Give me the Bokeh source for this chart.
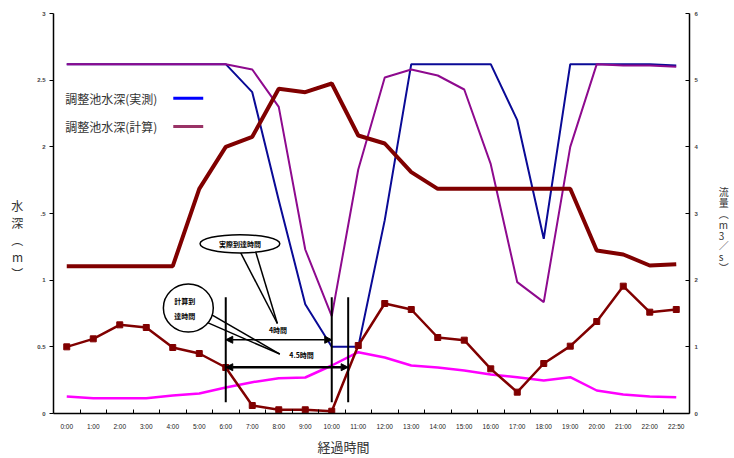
from bokeh.plotting import figure
from bokeh.models import Range1d, LinearAxis, FixedTicker, Arrow, NormalHead, Title
from bokeh.embed import file_html
from bokeh.resources import INLINE
from bokeh.core.properties import value

# ---------------- data ----------------
time_labels = ["0:00", "1:00", "2:00", "3:00", "4:00", "5:00", "6:00", "7:00",
               "8:00", "9:00", "10:00", "11:00", "12:00", "13:00", "14:00",
               "15:00", "16:00", "17:00", "18:00", "19:00", "20:00", "21:00",
               "22:00", "22:50"]

# 調整池水深 (m), left axis
depth_measured = [2.62, 2.62, 2.62, 2.62, 2.62, 2.62, 2.62, 2.41, 1.60, 0.82,
                  0.50, 0.50, 1.45, 2.62, 2.62, 2.62, 2.62, 2.20, 1.31, 2.62,
                  2.62, 2.62, 2.62, 2.61]
depth_calc = [2.62, 2.62, 2.62, 2.62, 2.62, 2.62, 2.62, 2.58, 2.30, 1.23,
              0.73, 1.83, 2.52, 2.58, 2.535, 2.43, 1.87, 0.985, 0.835, 2.00,
              2.62, 2.61, 2.61, 2.60]

# 流量 (m3/s), right axis
flow_thick = [2.21, 2.21, 2.21, 2.21, 2.21, 3.37, 4.00, 4.15, 4.87, 4.82,
              4.95, 4.17, 4.05, 3.62, 3.37, 3.37, 3.37, 3.37, 3.37, 3.37,
              2.445, 2.385, 2.22, 2.24]
flow_marker = [1.00, 1.12, 1.33, 1.29, 0.99, 0.90, 0.69, 0.12, 0.056, 0.056,
               0.034, 1.02, 1.65, 1.56, 1.14, 1.10, 0.67, 0.32, 0.75, 1.01,
               1.38, 1.91, 1.52, 1.56]
flow_magenta = [0.255, 0.23, 0.23, 0.23, 0.27, 0.30, 0.39, 0.47, 0.53, 0.54,
                0.72, 0.92, 0.84, 0.72, 0.69, 0.645, 0.585, 0.545, 0.495, 0.545,
                0.345, 0.285, 0.255, 0.245]

depth_ticks = [0, 0.5, 1, 1.5, 2, 2.5, 3]
depth_tick_labels = ["0", "0.5", "1", ".5", "2", "2.5", "3"]
flow_ticks = [0, 1, 2, 3, 4, 5, 6]

legend_labels = ["調整池水深(実測)", "調整池水深(計算)"]

# annotation geometry (category index / depth units)
vline_x = [6, 10, 10.62]
vline_y = (0.085, 0.8725)
arrow_4h = (6, 10, 0.553)
arrow_45h = (6, 10.62, 0.347)

JP = "Noto Sans CJK JP"
x = list(range(len(time_labels)))

p = figure(width=734, height=458, x_range=Range1d(-0.5, 23.5), y_range=Range1d(0, 3),
           output_backend="svg", toolbar_location=None,
           min_border_left=53, min_border_right=45, min_border_top=13, min_border_bottom=45)
p.extra_y_ranges = {"flow": Range1d(0, 6)}
p.outline_line_color = None
p.xgrid.visible = False
p.ygrid.visible = False
p.background_fill_color = "white"

# x axis
xa = p.xaxis[0]
xa.ticker = FixedTicker(ticks=x, minor_ticks=[i + 0.5 for i in range(23)])
xa.major_label_overrides = {i: t for i, t in enumerate(time_labels)}
xa.major_tick_line_color = None
xa.minor_tick_in = 4
xa.minor_tick_out = 0
xa.minor_tick_line_color = "black"
xa.axis_line_width = 1.5
xa.axis_line_color = "black"
xa.major_label_text_font = "Liberation Sans"
xa.major_label_text_font_size = "6.5px"
xa.major_label_text_color = "#222222"
xa.major_label_standoff = 3

# left axis
ya = p.yaxis[0]
ya.ticker = FixedTicker(ticks=depth_ticks)
ya.major_label_overrides = {float(t): s for t, s in zip(depth_ticks, depth_tick_labels)}
ya.major_tick_in = 0
ya.major_tick_out = 4
ya.minor_tick_line_color = None
ya.axis_line_width = 1.5
ya.axis_line_color = "black"
ya.major_label_text_font = "Liberation Sans"
ya.major_label_text_font_size = "6px"
ya.major_label_text_font_style = "bold"
ya.major_label_standoff = 4
ya.axis_label = "\n\n\n水\n深\n︵\nm\n︶"
ya.axis_label_orientation = "horizontal"
ya.axis_label_text_font = JP
ya.axis_label_text_font_size = "12px"
ya.axis_label_text_font_style = "normal"
ya.axis_label_text_color = "#333333"
ya.axis_label_text_line_height = 1.0
ya.axis_label_standoff = 11

# right axis
ra = LinearAxis(y_range_name="flow", ticker=FixedTicker(ticks=flow_ticks))
ra.major_tick_in = 4
ra.major_tick_out = 0
ra.minor_tick_line_color = None
ra.axis_line_width = 1.5
ra.axis_line_color = "black"
ra.major_label_text_font = "Liberation Sans"
ra.major_label_text_font_size = "6px"
ra.major_label_text_font_style = "bold"
ra.major_label_standoff = 5
ra.axis_label = "\n\n\n流\n量\n︵\nm\n3\n／\ns\n︶"
ra.axis_label_orientation = "horizontal"
ra.axis_label_text_font = JP
ra.axis_label_text_font_size = "10px"
ra.axis_label_text_font_style = "normal"
ra.axis_label_text_color = "#333333"
ra.axis_label_text_line_height = 0.72
ra.axis_label_standoff = 18
p.add_layout(ra, "right")

# x axis title
p.add_layout(Title(text="経過時間", align="left", offset=264, standoff=5,
                   text_font=JP, text_font_size="13px", text_font_style="normal",
                   text_color="#333333"), "below")

# ---------------- series ----------------
p.line(x, flow_magenta, y_range_name="flow", color="#FF00FF", line_width=2.5)
p.line(x, depth_measured, color="#0A0A96", line_width=2)
p.line(x, depth_calc, color="#8E0A8E", line_width=2)
p.line(x, flow_thick, y_range_name="flow", color="#800000", line_width=4)
p.line(x, flow_marker, y_range_name="flow", color="#800000", line_width=2.5)
p.scatter(x, flow_marker, y_range_name="flow", marker="square", size=6,
          color="#800000")

# ---------------- legend (custom) ----------------
p.text(x=[-0.06, -0.06], y=[2.365, 2.153], text=legend_labels,
       text_align="left", text_baseline="middle", text_font=value(JP),
       text_font_size="12px", text_color="#333333")
p.line([4.02, 5.15], [2.365, 2.365], color="#0000FF", line_width=3)
p.line([4.02, 5.15], [2.153, 2.153], color="#993366", line_width=3)

# ---------------- annotations ----------------
p.segment(x0=vline_x, y0=[vline_y[0]] * 3, x1=vline_x, y1=[vline_y[1]] * 3,
          color="black", line_width=2)

for (xs, xe, yy), lw in ((arrow_4h, 1.5), (arrow_45h, 2.5)):
    p.add_layout(Arrow(x_start=xs, y_start=yy, x_end=xe, y_end=yy, line_width=lw,
                       line_color="black",
                       start=NormalHead(size=7, fill_color="black", line_color="black"),
                       end=NormalHead(size=7, fill_color="black", line_color="black")))

p.text(x=[7.97, 8.86], y=[0.63, 0.4425], text=["4時間", "4.5時間"],
       text_align="center", text_baseline="middle", text_font=value(JP),
       text_font_size="7px", text_font_style="bold", text_color="black")

# ellipse callout (実際到達時間)
p.segment(x0=[6.46, 7.08], y0=[1.245, 1.245], x1=[7.947, 7.947], y1=[0.675, 0.675],
          color="black", line_width=1.5)
p.ellipse(x=[6.535], y=[1.273], width=3.01, height=0.137, fill_color="white",
          line_color="black", line_width=1.5)
p.text(x=[6.535], y=[1.273], text=["実際到達時間"], text_align="center",
       text_baseline="middle", text_font=value(JP), text_font_size="7px",
       text_font_style="bold", text_color="black")

# circle callout (計算到達時間)
p.segment(x0=[5.443, 5.292], y0=[0.743, 0.683], x1=[8.04, 8.04], y1=[0.446, 0.446],
          color="black", line_width=1.5)
p.ellipse(x=[4.588], y=[0.791], width=1.883, height=0.36, fill_color="white",
          line_color="black", line_width=1.5)
p.text(x=[4.45], y=[0.791], text=["計算到\n達時間"], text_align="center",
       text_baseline="middle", text_font=value(JP), text_font_size="7px",
       text_font_style="bold", text_color="black", text_line_height=1.5)

open("out.html", "w").write(file_html(p, INLINE))
